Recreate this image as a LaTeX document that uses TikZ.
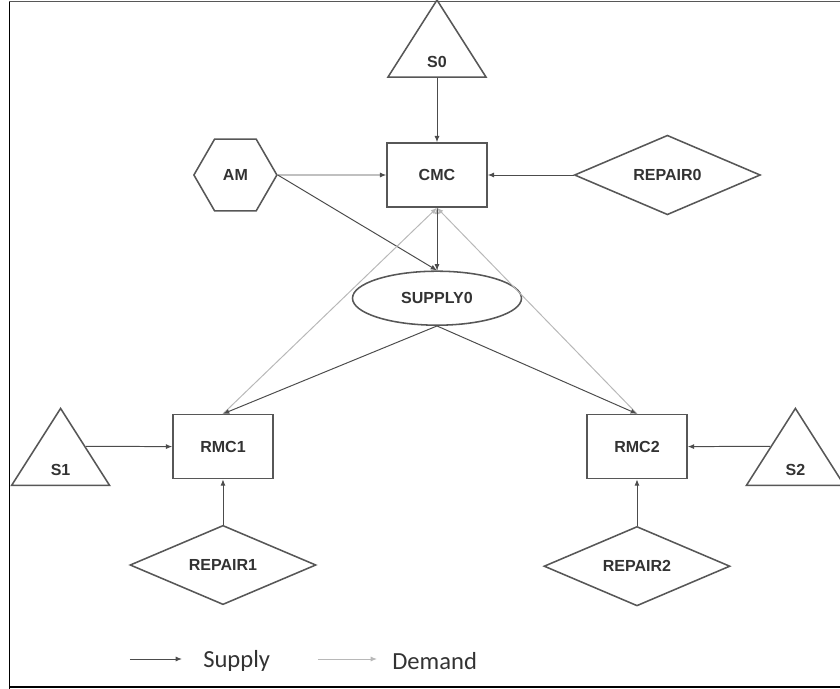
\documentclass[tikz,border=0pt]{standalone}
\usepackage{fontspec}
\setsansfont{Liberation Sans}
\newfontfamily\legendfont{Carlito}
\usepackage{xcolor}
\usepackage{tikz}
\usetikzlibrary{positioning}
\usetikzlibrary{arrows.meta}
\usetikzlibrary{shapes.geometric}
\definecolor{edgegrey}{rgb}{0.34,0.34,0.34}
\definecolor{supplygrey}{rgb}{0.3,0.3,0.3}
\definecolor{demandgrey}{rgb}{0.72,0.72,0.72}
\definecolor{labelgrey}{rgb}{0.2,0.2,0.2}
\tikzset{%
  shapebase/.style={draw=edgegrey, line width=1.1pt, fill=white, inner sep=0pt, text=labelgrey, font=\sffamily\bfseries\fontsize{11.4}{13}\selectfont},
  blocknode/.style={shapebase, rectangle, minimum width=2.5cm, minimum height=1.6cm},
  ovalnode/.style={shapebase, ellipse, minimum width=4.225cm, minimum height=1.35cm},
  hexnode/.style={shapebase, regular polygon, regular polygon sides=6, minimum size=2.075cm},
  repairnode/.style={shapebase, diamond, minimum width=4.65cm, minimum height=1.575cm},
  sourcenode/.style={shapebase, isosceles triangle, isosceles triangle stretches, shape border rotate=90, minimum width=2.45cm, minimum height=1.925cm, text height=0.84cm, text depth=0pt},
  supplyflow/.style={-{Latex[length=4.5pt,width=3.6pt]}, color=supplygrey, line width=0.7pt},
  demandflow/.style={-{Latex[length=4.5pt,width=3.6pt]}, color=demandgrey, line width=0.7pt},
  legendtext/.style={font=\legendfont\fontsize{17.5}{20}\selectfont, text=labelgrey, inner sep=0pt}
}

\begin{document}
\begin{tikzpicture}
        \useasboundingbox (-10.925,-12.85) rectangle (10.075,4.375);
        % frame of the screenshot
        \draw [line width=1.4pt] (-10.6875,4.3375) -- (-10.6875,-12.85);
        \draw [line width=1.1pt, color=edgegrey] (-10.6875,4.3375) -- (10.075,4.3375);
        \draw [line width=1.4pt] (-10.6875,-12.8) -- (10.075,-12.8);

        \node [blocknode]                                                      (cmc) {CMC};
        \node [sourcenode, above of=cmc, node distance=2.43cm, anchor=lower side] (s0) {S0};
        \node [hexnode, left of=cmc, node distance=5.04cm]                     (am) {AM};
        \node [repairnode, right of=cmc, node distance=5.76cm]                 (repair0) {REPAIR0};
        \node [ovalnode, below of=cmc, node distance=3.08cm]                   (supply0) {SUPPLY0};
        \node [blocknode, below of=supply0, node distance=3.71cm, xshift=-5.35cm] (rmc1) {RMC1};
        \node [blocknode, below of=supply0, node distance=3.71cm, xshift=5cm]  (rmc2) {RMC2};
        \node [repairnode, below of=rmc1, node distance=2.96cm]                (repair1) {REPAIR1};
        \node [repairnode, below of=rmc2, node distance=2.99cm]                (repair2) {REPAIR2};
        \node [sourcenode, left of=rmc1, node distance=4.06cm, yshift=-0.99cm, anchor=lower side]  (s1) {S1};
        \node [sourcenode, right of=rmc2, node distance=3.96cm, yshift=-0.99cm, anchor=lower side] (s2) {S2};

        \draw [supplyflow] (s0.lower side) -- (cmc.north);
        \draw [supplyflow] (am.east) -- (cmc.west);
        \draw [supplyflow] (repair0.west) -- (cmc.east);
        \draw [supplyflow] (am.east) -- (supply0.north);
        \draw [demandflow] (supply0.north) -- (cmc.south);
        \draw [supplyflow] (cmc.south) -- (supply0.north);
        \draw [demandflow] (rmc1.north) -- (cmc.south);
        \draw [demandflow] (rmc2.north) -- (cmc.south);
        \draw [supplyflow] (supply0.south) -- (rmc1.north);
        \draw [supplyflow] (supply0.south) -- (rmc2.north);
        \draw [supplyflow] (s1.right side) -- (rmc1.west);
        \draw [supplyflow] (s2.left side) -- (rmc2.east);
        \draw [supplyflow] (repair1.north) -- (rmc1.south);
        \draw [supplyflow] (repair2.north) -- (rmc2.south);

        % legend
        \coordinate (supplystart) at (-7.675,-12.1);
        \coordinate (supplyend) at (-6.375,-12.1);
        \coordinate (demandstart) at (-2.975,-12.1);
        \coordinate (demandend) at (-1.5,-12.1);
        \node [legendtext, anchor=west] (supplykey) at (-5.85,-12.15) {Supply};
        \node [legendtext, anchor=west] (demandkey) at (-1.125,-12.15) {Demand};
        \draw [supplyflow] (supplystart) -- (supplyend);
        \draw [demandflow] (demandstart) -- (demandend);
    \end{tikzpicture}
\end{document}
